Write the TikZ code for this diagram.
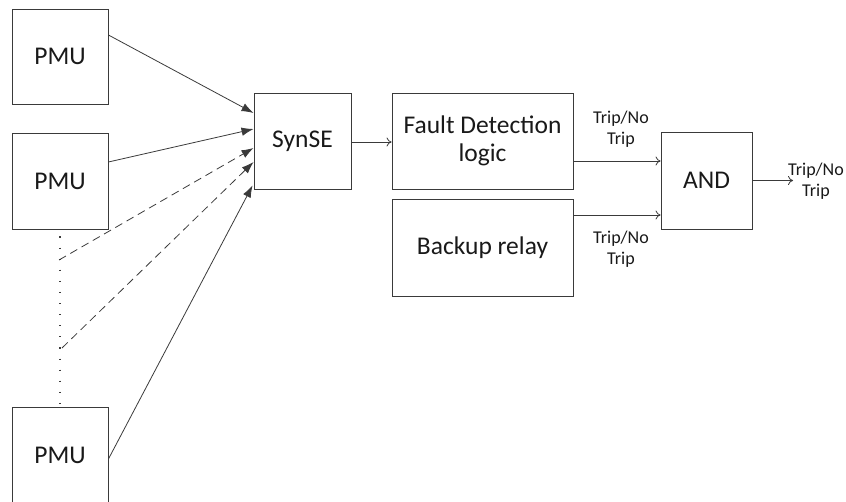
\documentclass[tikz,border=0pt]{standalone}
\usepackage{fontspec}
\setmainfont{Carlito}
\usetikzlibrary{arrows.meta}
\definecolor{ln}{HTML}{3A3A3A}
\begin{document}
\begin{tikzpicture}[x=1pt,y=-1pt,
  blk/.style={draw=ln,line width=0.9pt,inner sep=0pt,minimum height=96pt,font=\fontsize{25.5}{28}\selectfont,text=black!90,align=center},
  inarrow/.style={draw=ln,line width=0.8pt,-{Latex[length=12pt,width=8.5pt]}},
  outarrow/.style={draw=ln,line width=0.8pt,-{To[length=5pt,width=9pt]}},
  dsh/.style={dash pattern=on 8pt off 5pt},
  lbl/.style={font=\fontsize{18}{21.5}\selectfont,align=center,text=black!90,inner sep=0pt}]
\useasboundingbox (0,0) rectangle (846,502);
\clip (0,0) rectangle (846,502);
\node[blk,minimum width=96pt,minimum height=95pt] (pmu1) at (60,56.5) {PMU};
\node[blk,minimum width=96pt] (pmu2) at (60,181) {PMU};
\node[blk,minimum width=96pt] (pmu3) at (60,455) {PMU};
\node[blk,minimum width=97pt] (syn) at (302.5,141) {SynSE};
\node[blk,minimum width=181pt] (fd) at (482.5,141) {Fault Detection\\logic};
\node[blk,minimum width=181pt,minimum height=97pt] (br) at (482.5,247.5) {Backup relay};
\node[blk,minimum width=91pt,minimum height=97pt] (and) at (706.5,180.5) {AND};
\coordinate (d1) at (59,260);
\coordinate (d2) at (62,348);
\coordinate (out) at (793,180.5);
% dotted continuation
\draw[ln,line width=1.1pt,dash pattern=on 1.1pt off 10pt] ([yshift=-7pt]pmu2.south) -- ([yshift=3pt]pmu3.north);
% PMU inputs
\draw[inarrow] ([yshift=21.5pt]pmu1.east) -- ([yshift=28pt]syn.west);
\draw[inarrow] ([yshift=19pt]pmu2.east) -- ([yshift=12pt]syn.west);
\draw[inarrow,dsh] (d1) -- ([yshift=-7pt]syn.west);
\draw[inarrow,dsh] (d2) -- ([yshift=-21pt]syn.west);
\draw[inarrow] ([yshift=-4pt]pmu3.east) -- ([xshift=-1pt,yshift=4pt]syn.south west);
% chain
\draw[outarrow] ([yshift=-1pt]syn.east) -- ([yshift=-1pt]fd.west);
\draw[outarrow] ([yshift=-20pt]fd.east) -- ([yshift=-20pt]fd.east -| and.west);
\draw[outarrow] ([yshift=32.5pt]br.east) -- ([yshift=32.5pt]br.east -| and.west);
\draw[outarrow] (and.east) -- (out);
% labels
\node[lbl] (l1) at (621,129) {Trip/No\\Trip};
\node[lbl] (l2) at (621,249) {Trip/No\\Trip};
\node[lbl] (l3) at (816,181) {Trip/No\\Trip};
\end{tikzpicture}
\end{document}
